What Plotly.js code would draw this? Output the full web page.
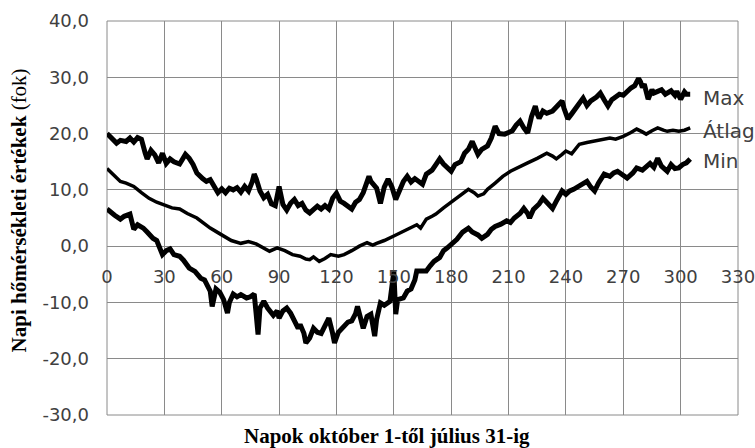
<!DOCTYPE html>
<html><head><meta charset="utf-8">
<script src="https://cdn.plot.ly/plotly-3.0.1.min.js"></script>
<style>body{margin:0;background:#fff}#c{width:755px;height:448px}</style>
</head><body><div id="c"></div>
<script>
const maxDays = [0,2,5,7,10,12,14,16,18,20,21,23,25,27,29,31,33,35,38,41,43,45,47,50,52,54,56,58,60,62,64,66,68,70,72,74,76,77,78,80,82,84,86,88,90,91,92,94,96,98,100,102,104,106,108,110,112,114,116,118,120,122,124,126,128,130,132,134,136,137,138,140,141,143,145,147,149,151,153,155,157,159,161,163,165,167,170,172,174,176,178,180,182,185,187,189,191,193,194,196,199,201,203,205,208,210,212,214,216,218,220,222,224,225,226,228,230,233,235,238,239,241,243,245,247,249,251,253,256,258,260,262,264,266,268,270,272,274,276,278,279,280,281,282,283,285,286,288,290,292,293,295,297,298,300,302,303,305];
const maxVals = [20,19.2,18.3,18.8,18.6,19.2,18.5,19.3,19,16.5,15.5,17,16.2,14.8,16.5,14.7,15.5,15,14.6,16.3,15.6,14.5,13,12,11.5,11.8,10.5,9.5,10.2,9.5,10.3,10,10.4,9.6,10.6,9.8,11.5,12.8,12,9.8,8.6,9.2,7.5,7.2,10.6,9,7.4,6.4,7.6,8.3,7.2,7.6,6.4,5.9,6.6,7.1,6.6,7.2,6.6,8.5,9.4,8,7.6,7,6.6,7.8,8.3,9.5,11.5,12.4,11.5,10.8,10.3,7.6,10.5,11.9,10.5,8.3,10,11.5,12.4,11.4,12,11.4,11,12.8,13.5,14.5,15.5,14.6,14,13.3,14.5,15,16.5,17.2,18.6,17,16.3,17.2,17.8,19.2,21.3,20,19.9,20.2,20.5,21.5,22.2,21,20.1,23,24.9,23.5,22.7,24,23.6,24,24.8,25.8,24.5,22.6,23.5,24.5,25.5,26.3,25,25.8,26.5,27.2,26,24.9,26,26.5,27,26.8,27.5,28.1,28.5,29.8,29.2,28.2,28.8,27.5,26.1,27.8,27.2,27.5,27.8,27,27.2,27.6,26.8,27.5,26.1,27.4,27,27];

const avgDays = [0,3,7,10,14,18,22,26,31,34,38,42,47,51,54,58,61,65,70,74,78,82,85,89,93,97,101,104,106,108,111,114,117,121,124,128,132,136,139,141,145,150,154,158,162,164,167,170,172,176,181,185,189,192,194,197,199,203,207,211,216,220,225,230,233,235,238,240,243,247,251,254,258,263,266,270,274,277,280,282,285,288,291,293,296,299,302,305];
const avgVals = [13.8,12.8,11.5,11.2,10.6,9.5,8.5,7.8,7.1,6.8,6.6,5.8,5,4,3.2,2.4,1.8,1,0.5,0.8,0.4,-0.4,-0.9,-0.3,-0.8,-1.5,-1.8,-2.3,-2.4,-1.9,-2.7,-2.2,-1.5,-1.8,-1.5,-0.8,0,0.6,0.2,0.5,1,1.8,2.5,3.2,3.8,3.2,4.8,5.3,5.7,6.8,8,9,10.1,9.5,8.9,9.3,10.1,11.2,12.4,13.3,14.2,14.8,15.6,16.5,16,15.5,16.3,16.9,16.4,18.1,18.4,18.6,18.8,19.2,19,19.5,20.2,20.8,20.3,19.9,20.5,21,20.6,20.4,20.6,20.4,20.6,21];

const minDays = [0,2,4,7,9,12,13,14,16,19,21,24,26,29,31,33,35,38,40,43,46,49,51,52,54,55,56,57,59,61,63,64,66,68,70,73,75,77,78,79,80,82,84,85,87,89,90,92,94,96,98,100,101,103,104,106,108,110,112,114,116,118,119,121,123,124,126,128,130,131,133,134,136,138,139,140,141,143,145,148,150,151,152,155,157,159,161,162,164,167,169,171,174,176,178,181,183,186,189,191,194,196,199,201,203,206,209,211,213,216,218,220,221,223,226,228,230,233,235,238,240,242,244,247,249,251,253,255,257,260,263,265,267,270,272,275,277,280,282,284,286,288,290,292,293,295,297,299,301,303,305];
const minVals = [6.6,6,5.5,4.8,5.3,5.7,4.5,3,3.8,3.2,2.5,1.4,1,-1.5,-0.8,-0.5,-1.5,-1.8,-2.5,-3.9,-4.5,-5.7,-6,-6.7,-8,-10.7,-9,-7.6,-8.2,-9.5,-11.9,-10,-8.5,-9,-8.6,-9.2,-9,-8.5,-12,-15.7,-11,-9.8,-11,-11.5,-12.3,-11.5,-12.8,-11.5,-11,-11.9,-13.2,-14.6,-13.9,-15.5,-17.2,-16.3,-14.6,-15.3,-15.5,-14,-12.8,-15.5,-17.2,-15.3,-14.5,-14.2,-13.5,-13.3,-12,-10.7,-13,-14.6,-12.5,-12.1,-14,-16,-13,-10.1,-10.5,-9.8,-4.5,-12.1,-9.5,-9.2,-8,-7.6,-6,-4.4,-4.4,-4.4,-3.5,-2.7,-2,-0.8,-0.3,0.5,1.2,2.5,3.2,2.5,2,1.4,2.1,3,3.5,3.9,4.5,4.2,5,5.8,6.7,5.8,5,6.5,7.5,8.5,7.8,6.7,8,9.8,9.2,9.8,10.1,10.8,11,11.5,10.5,9.8,11.2,12.8,12.4,13,13.3,12.7,12.1,13,13.9,13.5,14.2,14.7,14,15.6,14.2,13.6,13.3,14.5,13.8,13.9,14.5,14.8,15.5];

const seriesNames = ['Max','Átlag','Min'];
const labelY = [26.3, 20.4, 15.1];
const xTicks = [0,30,60,90,120,150,180,210,240,270,300,330];
const yTicks = [-30,-20,-10,0,10,20,30,40];
const yTickText = ['-30,0','-20,0','-10,0','0,0','10,0','20,0','30,0','40,0'];

const grid = '#8a8a8a';
const sans = 'DejaVu Sans, sans-serif';
const tickFont = {family:sans, size:18, color:'#404040'};
const serif = 'Liberation Serif, Times New Roman, serif';

const traces = [
  {x:maxDays, y:maxVals, name:seriesNames[0], mode:'lines', line:{color:'#000', width:5}},
  {x:avgDays, y:avgVals, name:seriesNames[1], mode:'lines', line:{color:'#000', width:3.5}},
  {x:minDays, y:minVals, name:seriesNames[2], mode:'lines', line:{color:'#000', width:5}}
];

const annotations = seriesNames.map((n,i)=>({
  x:310.5, y:labelY[i], xref:'x', yref:'y', text:n, showarrow:false, xanchor:'left', yanchor:'middle',
  font:{family:sans, size:20, color:'#404040'}
}));
annotations.push({
  xref:'paper', yref:'paper', x:-0.139, y:0.52, textangle:-90, showarrow:false,
  text:'<b>Napi hőmérsékleti értékek</b> (fok)', xanchor:'center', yanchor:'middle',
  font:{family:serif, size:21, color:'#000'}
});
annotations.push({
  xref:'paper', yref:'paper', x:0.444, y:-0.053, showarrow:false, yanchor:'middle', xanchor:'center',
  text:'<b>Napok október 1-től július 31-ig</b>',
  font:{family:serif, size:21, color:'#000'}
});

const layout = {
  width:755, height:448,
  margin:{l:107, r:17, t:21, b:33},
  paper_bgcolor:'#fff', plot_bgcolor:'#fff',
  showlegend:false,
  xaxis:{range:[0,330], tickvals:xTicks, ticktext:xTicks.map(String), anchor:'free', position:0.4315,
         showgrid:true, gridcolor:grid, gridwidth:1, zeroline:false, showline:false, ticks:'',
         tickfont:tickFont, ticklabelstandoff:19, ticklabeloverflow:'allow'},
  yaxis:{range:[-30,40], tickvals:yTicks, ticktext:yTickText, showgrid:true, gridcolor:grid, gridwidth:1,
         zeroline:false, showline:false, ticks:'', tickfont:tickFont, ticklabelstandoff:17},
  shapes:[{type:'rect', xref:'paper', yref:'paper', x0:0, x1:1, y0:0, y1:1, line:{color:grid, width:1}, layer:'below'}],
  annotations:annotations
};

Plotly.newPlot('c', traces, layout, {staticPlot:true});
</script></body></html>
